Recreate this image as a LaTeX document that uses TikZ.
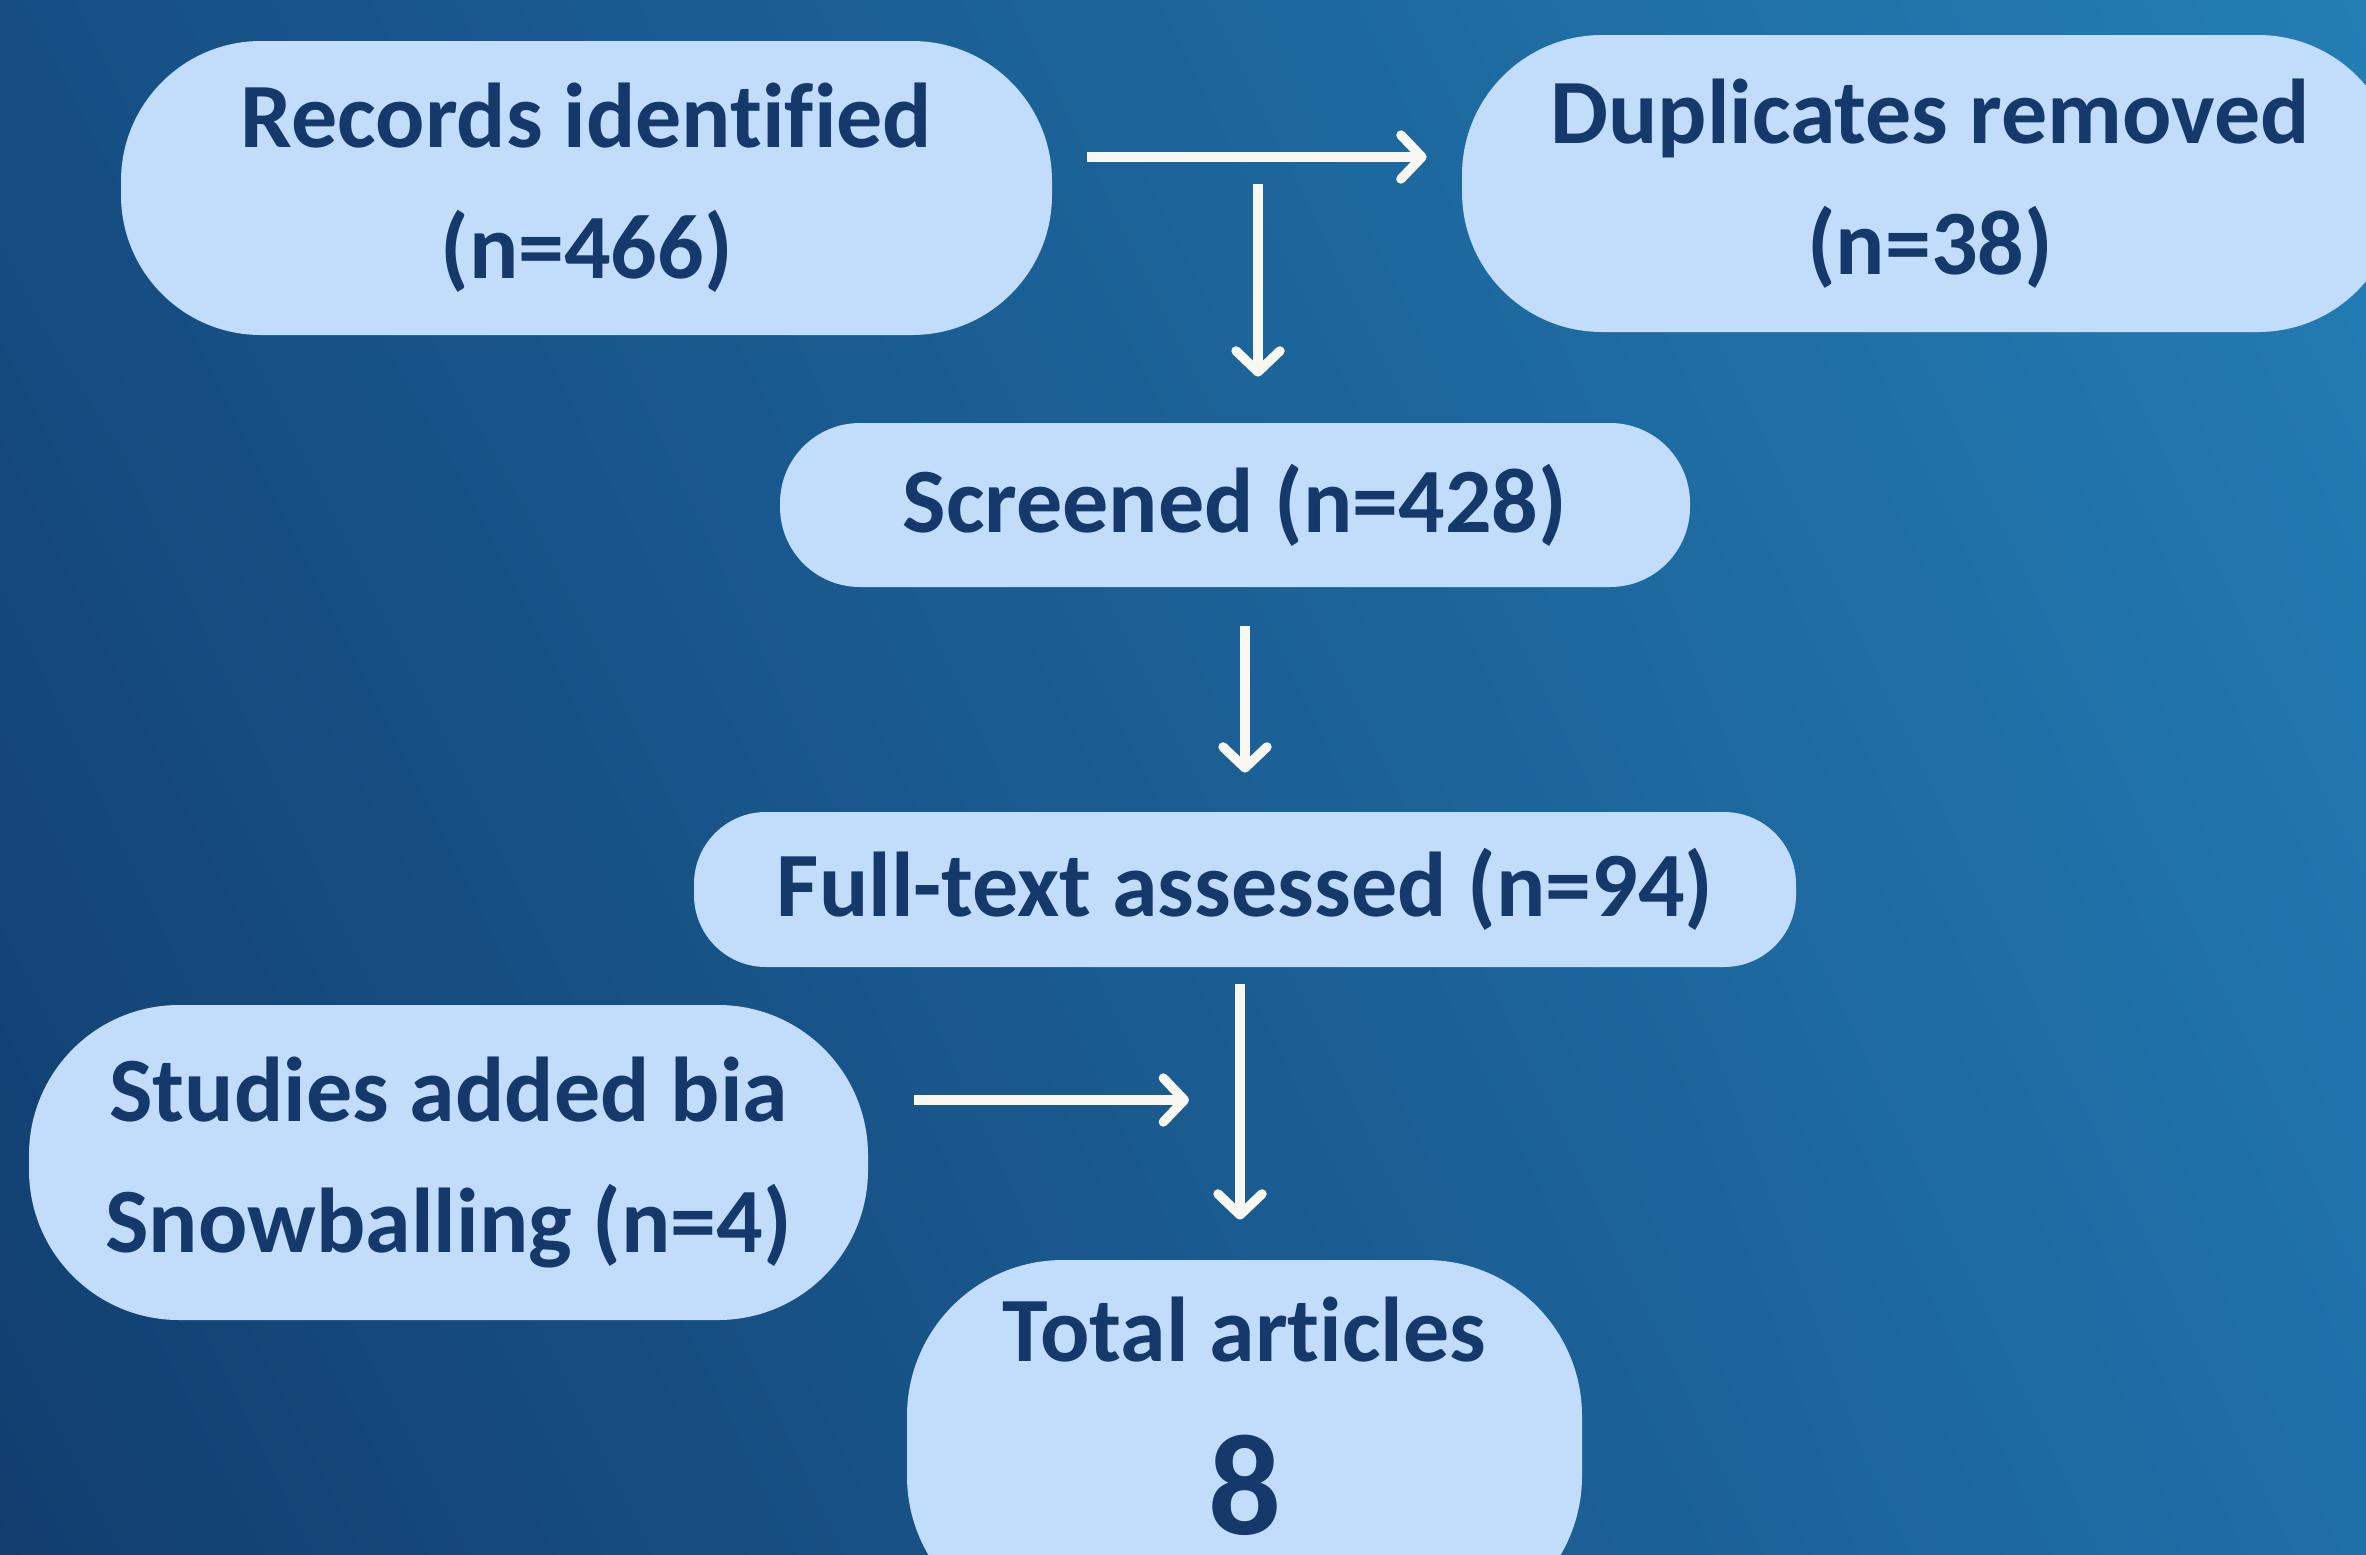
\documentclass[tikz,border=0pt]{standalone}
\usepackage{fontspec}
\setmainfont{Carlito}[Ligatures=NoCommon]
\usetikzlibrary{arrows.meta,calc,shadings}
\definecolor{bgTL}{HTML}{164E84}
\definecolor{bgTR}{HTML}{237EB4}
\definecolor{bgBL}{HTML}{123E6F}
\definecolor{bgBR}{HTML}{1F6FA9}
\definecolor{boxfill}{HTML}{C2DDFC}
\definecolor{boxtext}{HTML}{16396B}
\definecolor{arrowcol}{HTML}{F8F7F2}
\tikzset{
  flowbox/.style={draw=none, fill=boxfill, text=boxtext, inner sep=0pt,
    align=center, font=\fontsize{46pt}{65.5pt}\selectfont\bfseries},
  flowlabel/.style={text=boxtext, inner sep=0pt,
    align=center, font=\fontsize{46pt}{65.5pt}\selectfont\bfseries},
  flowarrow/.style={draw=arrowcol, line width=4.7pt,
    -{Straight Barb[round, length=10.5pt, width=22pt]}}
}
\begin{document}
\begin{tikzpicture}[x=0.5pt,y=-0.5pt]
\useasboundingbox (0,0) rectangle (2366,1554);
\clip (0,0) rectangle (2366,1554);
\shade[upper left=bgTL, upper right=bgTR, lower left=bgBL, lower right=bgBR]
  (0,0) rectangle (2366,1554);

\node[flowbox, minimum width=465.5pt, minimum height=147pt, rounded corners=70pt]
  (rec) at (586.5,188) {Records identified\\(n=466)};
\node[flowbox, minimum width=468pt, minimum height=148.5pt, rounded corners=70pt]
  (dup) at (1930,183.5) {Duplicates removed\\(n=38)};
\node[flowbox, minimum width=455pt, minimum height=82pt, rounded corners=40pt]
  (scr) at (1235,505) {Screened (n=428)};
\node[flowbox, minimum width=551pt, minimum height=77.5pt, rounded corners=36pt]
  (ft) at (1245,889.5) {Full-text assessed (n=94)};
\node[flowbox, minimum width=419.5pt, minimum height=157.5pt, rounded corners=75pt]
  (stu) at (448.5,1162.5) {Studies added bia\\Snowballing (n=4)};
\node[flowbox, minimum width=337.5pt, minimum height=186pt, rounded corners=78pt]
  (tot) at (1244.5,1446) {};
\node[flowlabel] (totlbl) at (1244.5,1416)
  {Total articles\\[21pt]{\fontsize{72pt}{72pt}\selectfont 8}};

\coordinate (yA) at (0,157);
\coordinate (b0) at (1258,184);
\coordinate (xC) at (1245,0);
\coordinate (xD) at (1240,0);
\coordinate (e5) at (1189,1100);

\draw[flowarrow, shorten <=17.5pt, shorten >=17.5pt] (rec.east |- yA) -- (dup.west |- yA);
\draw[flowarrow, shorten >=23pt] (b0) -- (b0 |- scr.north);
\draw[flowarrow, shorten <=19.5pt, shorten >=19.5pt] (scr.south -| xC) -- (ft.north -| xC);
\draw[flowarrow, shorten <=8.5pt, shorten >=20pt] (ft.south -| xD) -- (tot.north -| xD);
\draw[flowarrow, shorten <=23pt] (stu.east |- e5) -- (e5);
\end{tikzpicture}
\end{document}
